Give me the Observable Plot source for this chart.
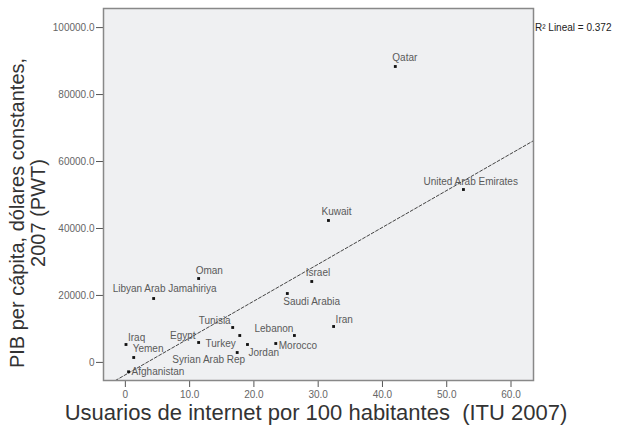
<!DOCTYPE html>
<html><head><meta charset="utf-8">
<script src="https://cdn.jsdelivr.net/npm/d3@7"></script>
<script src="https://cdn.jsdelivr.net/npm/@observablehq/plot@0.6"></script>
<style>body{margin:0;background:#fff;} svg{display:block}</style>
</head><body><div id="chart"></div>
<script>
// ---- data ----
const countries = ["Qatar","United Arab Emirates","Kuwait","Israel","Saudi Arabia","Iran","Oman","Libyan Arab Jamahiriya","Tunisia","Lebanon","Turkey","Morocco","Jordan","Syrian Arab Rep","Egypt","Iraq","Yemen","Afghanistan"];
const internetUsers = [42.0, 52.6, 31.6, 29.0, 25.2, 32.4, 11.4, 4.4, 16.7, 26.3, 17.8, 23.4, 19.0, 17.4, 11.4, 0.1, 1.3, 0.5];
const gdpPerCapita = [88380, 51640, 42390, 24170, 20580, 10730, 25060, 19090, 10430, 8040, 8040, 5650, 5350, 2960, 5950, 5350, 1470, -2800];
// label placement (separate from values)
const labelAnchor = ["start","start","start","start","start","start","start","start","end","end","end","start","start","end","end","start","start","start"];
const labelDx = [-3,-40,-7,-6,-4,2,-3,-41,-2,-1,-4,3,1,8,-3,2,-1,3];
const labelDy = [-9,-8,-9,-9,8,-7,-8,-10,-7,-7,8,2,8,7,-7,-7,-9,0];

const xTicks = [0,10,20,30,40,50,60];
const xTickLabels = ["0","10.0","20.0","30.0","40.0","50.0","60.0"];
const yTicks = [0,20000,40000,60000,80000,100000];
const yTickLabels = ["0","20000.0","40000.0","60000.0","80000.0","100000.0"];
const xTitle = "Usuarios de internet por 100 habitantes  (ITU 2007)";
const yTitle = ["PIB per cápita, dólares constantes,", "2007 (PWT)"];
const r2Label = "R² Lineal = 0.372";

const xDomain = [-3.4, 63.5];
const yDomain = [-5400, 105700];

const data = countries.map((c,i)=>({country:c, x:internetUsers[i], y:gdpPerCapita[i]}));

// least-squares fit from the data
const mx = d3.mean(data,d=>d.x), my = d3.mean(data,d=>d.y);
const slope = d3.sum(data,d=>(d.x-mx)*(d.y-my))/d3.sum(data,d=>(d.x-mx)**2);
const intercept = my - slope*mx;
const xStart = Math.max(xDomain[0], (yDomain[0]-intercept)/slope);
const xEnd = Math.min(xDomain[1], (yDomain[1]-intercept)/slope);
const fit = [xStart, xEnd].map(x=>({x, y: intercept + slope*x}));

const FONT = "'Liberation Sans',Arial,sans-serif";

const labelMarks = data.map((d,i)=>Plot.text([d], {
  x:"x", y:"y", text:"country",
  dx: labelDx[i], dy: labelDy[i], textAnchor: labelAnchor[i],
  fontSize: 10, fill: "#5a5a5a"
}));

const chart = Plot.plot({
  width: 623, height: 426,
  marginLeft: 103, marginRight: 90, marginTop: 8, marginBottom: 46,
  style: {fontFamily: FONT, fontSize: "10px", background: "#fff", color:"#555"},
  x: {domain: xDomain, ticks: xTicks},
  y: {domain: yDomain, ticks: yTicks},
  marks: [
    Plot.frame({fill: "#eff0f2"}),
    Plot.axisX({ticks: xTicks, tickFormat: d => xTickLabels[xTicks.indexOf(d)], tickSize: 7, tickPadding: 3, label: null, stroke:"#555", fill:"#666"}),
    Plot.axisY({ticks: yTicks, tickFormat: d => yTickLabels[yTicks.indexOf(d)], tickSize: 7, tickPadding: 2, label: null, stroke:"#555", fill:"#666"}),
    Plot.line(fit, {x:"x", y:"y", stroke:"#444", strokeWidth: 1, strokeDasharray: "3,2"}),
    Plot.dot(data, {x:"x", y:"y", symbol:"square", r: 1.6, fill:"#111"}),
    ...labelMarks,
    Plot.frame({stroke: "#888", strokeWidth: 1.5})
  ]
});

const svg = d3.select(chart);
svg.append("text")
  .attr("x", 316).attr("y", 420)
  .attr("text-anchor","middle")
  .attr("font-size", 22).attr("fill","#333")
  .style("font-family", FONT)
  .text(xTitle);
const yt = svg.append("text")
  .attr("transform","translate(24,213) rotate(-90)")
  .attr("text-anchor","middle")
  .attr("font-size", 20).attr("fill","#333")
  .style("font-family", FONT);
yt.append("tspan").attr("x",0).attr("y",0).text(yTitle[0]);
yt.append("tspan").attr("x",0).attr("y",21).text(yTitle[1]);
svg.append("text")
  .attr("x", 535).attr("y", 31)
  .attr("text-anchor","start")
  .attr("font-size", 10).attr("fill","#222")
  .style("font-family", FONT)
  .text(r2Label);

document.getElementById("chart").appendChild(chart);
</script>
</body></html>
